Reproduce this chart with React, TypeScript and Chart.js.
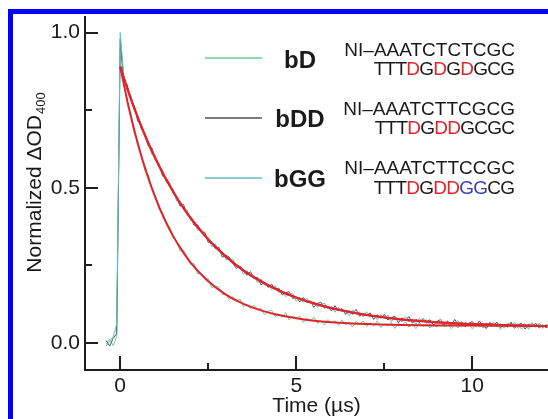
import { useEffect, useRef } from "react";
import { Chart, registerables } from "chart.js";

Chart.register(...registerables);

// sampling grid of the recorded traces (µs)
const T_START = -0.4;
const T_STEP = 0.1;

// Normalized ΔOD400 traces
const BD_DATA = [
  -0.005, 0.012, -0.008, 0.02, 0.95, 0.843, 0.774, 0.735, 0.675, 0.65,
  0.604, 0.556, 0.542, 0.495, 0.474, 0.43, 0.421, 0.387, 0.376, 0.337,
  0.329, 0.296, 0.299, 0.275, 0.253, 0.256, 0.223, 0.225, 0.205, 0.207,
  0.178, 0.183, 0.181, 0.156, 0.158, 0.14, 0.149, 0.134, 0.142, 0.116,
  0.125, 0.111, 0.122, 0.107, 0.112, 0.091, 0.103, 0.105, 0.085, 0.093,
  0.083, 0.098, 0.074, 0.086, 0.078, 0.087, 0.066, 0.08, 0.069, 0.083,
  0.063, 0.072, 0.058, 0.076, 0.064, 0.072, 0.057, 0.075, 0.059, 0.067,
  0.051, 0.07, 0.06, 0.071, 0.053, 0.065, 0.054, 0.071, 0.05, 0.061,
  0.055, 0.067, 0.047, 0.063, 0.056, 0.068, 0.051, 0.061, 0.046, 0.066,
  0.053, 0.063, 0.048, 0.059, 0.051, 0.067, 0.054, 0.063, 0.046, 0.06,
  0.048, 0.065, 0.054, 0.061, 0.045, 0.064, 0.051, 0.059, 0.047, 0.066,
  0.053, 0.062, 0.044, 0.06, 0.05, 0.065, 0.054, 0.062, 0.045, 0.058,
  0.048, 0.066, 0.051, 0.06, 0.047, 0.061, 0.053,
];

const BDD_DATA = [
  0.008, -0.01, 0.015, 0.03, 0.98, 0.847, 0.831, 0.784, 0.764, 0.714,
  0.702, 0.671, 0.634, 0.628, 0.59, 0.577, 0.538, 0.53, 0.516, 0.482,
  0.471, 0.441, 0.446, 0.413, 0.406, 0.379, 0.38, 0.358, 0.357, 0.324,
  0.324, 0.304, 0.309, 0.276, 0.283, 0.276, 0.256, 0.24, 0.248, 0.235,
  0.218, 0.23, 0.207, 0.211, 0.187, 0.195, 0.179, 0.19, 0.172, 0.177,
  0.155, 0.162, 0.165, 0.143, 0.148, 0.132, 0.147, 0.13, 0.136, 0.115,
  0.128, 0.131, 0.112, 0.117, 0.103, 0.12, 0.104, 0.111, 0.092, 0.105,
  0.092, 0.108, 0.086, 0.095, 0.088, 0.097, 0.076, 0.091, 0.08, 0.092,
  0.074, 0.082, 0.086, 0.065, 0.081, 0.072, 0.085, 0.064, 0.076, 0.065,
  0.079, 0.067, 0.075, 0.057, 0.07, 0.076, 0.058, 0.07, 0.055, 0.076,
  0.059, 0.068, 0.052, 0.063, 0.069, 0.054, 0.071, 0.056, 0.047, 0.066,
  0.056, 0.067, 0.05, 0.061, 0.052, 0.067, 0.047, 0.059, 0.063, 0.045,
  0.061, 0.052, 0.064, 0.048, 0.058, 0.049, 0.062,
];

const BGG_DATA = [
  -0.01, 0.005, 0.02, 0.06, 1.0, 0.863, 0.815, 0.799, 0.748, 0.729,
  0.687, 0.677, 0.645, 0.607, 0.599, 0.568, 0.559, 0.519, 0.508, 0.497,
  0.457, 0.457, 0.43, 0.429, 0.395, 0.39, 0.363, 0.367, 0.344, 0.339,
  0.31, 0.32, 0.295, 0.295, 0.269, 0.27, 0.27, 0.244, 0.246, 0.221,
  0.234, 0.215, 0.217, 0.194, 0.207, 0.186, 0.188, 0.172, 0.186, 0.163,
  0.166, 0.149, 0.159, 0.159, 0.135, 0.146, 0.131, 0.144, 0.127, 0.133,
  0.115, 0.123, 0.129, 0.109, 0.117, 0.099, 0.115, 0.1, 0.105, 0.088,
  0.107, 0.094, 0.1, 0.083, 0.101, 0.083, 0.09, 0.075, 0.091, 0.079,
  0.09, 0.069, 0.082, 0.079, 0.068, 0.085, 0.068, 0.078, 0.06, 0.079,
  0.068, 0.075, 0.058, 0.071, 0.061, 0.077, 0.061, 0.072, 0.055, 0.066,
  0.072, 0.051, 0.066, 0.055, 0.071, 0.052, 0.063, 0.048, 0.065, 0.057,
  0.067, 0.051, 0.063, 0.047, 0.065, 0.054, 0.067, 0.047, 0.058, 0.062,
  0.044, 0.062, 0.051, 0.064, 0.049, 0.057, 0.046,
];

// fitted curves (red)
const FIT_T = [0, 0.25, 0.5, 0.75, 1, 1.25, 1.5, 1.75, 2, 2.5, 3, 3.5, 4, 4.5, 5, 5.5, 6, 7, 8, 9, 10, 11, 12, 12.2];
const BD_FIT = [0.89, 0.755, 0.642, 0.548, 0.468, 0.401, 0.345, 0.299, 0.259, 0.199, 0.156, 0.126, 0.105, 0.09, 0.08, 0.072, 0.067, 0.061, 0.058, 0.0565, 0.056, 0.0555, 0.055, 0.055];
const BDD_FIT = [0.89, 0.803, 0.726, 0.656, 0.594, 0.538, 0.488, 0.442, 0.402, 0.333, 0.278, 0.233, 0.198, 0.169, 0.146, 0.127, 0.112, 0.09, 0.076, 0.067, 0.061, 0.057, 0.0545, 0.054];
const BGG_FIT = [0.89, 0.804, 0.727, 0.657, 0.595, 0.539, 0.489, 0.443, 0.403, 0.334, 0.279, 0.234, 0.199, 0.17, 0.147, 0.128, 0.113, 0.09, 0.076, 0.067, 0.061, 0.057, 0.0545, 0.054];

// legend content
const SERIES_NAMES = ["bD", "bDD", "bGG"];
const SEQ_TOP = ["NI\u2013AAATCTCTCGC", "NI\u2013AAATCTTCGCG", "NI\u2013AAATCTTCCGC"];
const SEQ_BOTTOM = ["TTTDGDGDGCG", "TTTDGDDGCGC", "TTTDGDDGGCG"];
const SEQ_BOTTOM_MASK = ["kkkrkrkrkkk", "kkkrkrrkkkk", "kkkrkrrbbkk"];

const X_MAJOR = [0, 5, 10];
const Y_MAJOR = [0, 0.5, 1.0];

const X_TITLE = "Time (\u00b5s)";
const Y_TITLE = "Normalized \u0394OD";
const Y_TITLE_SUB = "400";

const FONT = '"Liberation Sans", Arial, Helvetica, sans-serif';
const AXIS_COLOR = "#1e1e1e";
const TEXT_COLOR = "#1a1a1a";
const DATA_COLORS = ["#66cf92", "#555555", "#5dc0ca"];
const LEGEND_LINE_COLORS = ["#8fdab0", "#7a7a7a", "#8ccbd4"];
const FIT_COLOR = "#e3232b";
const MASK_COLORS: Record<string, string> = { k: "#1a1a1a", r: "#e2232a", b: "#3b3fb4" };

const isMajor = (list: number[], v: number) => list.some((m) => Math.abs(m - v) < 1e-9);

const overlayPlugin = {
  id: "overlay",
  afterDraw(chart: any) {
    const { ctx, chartArea, scales } = chart;
    const xs = scales.x;
    const ys = scales.y;
    ctx.save();

    // inward tick marks
    ctx.strokeStyle = AXIS_COLOR;
    ctx.lineWidth = 2;
    ctx.beginPath();
    xs.ticks.forEach((t: any) => {
      const px = Math.round(xs.getPixelForValue(t.value));
      const len = isMajor(X_MAJOR, t.value) ? 14 : 7;
      ctx.moveTo(px, chartArea.bottom);
      ctx.lineTo(px, chartArea.bottom - len);
    });
    ys.ticks.forEach((t: any) => {
      const py = Math.round(ys.getPixelForValue(t.value));
      const len = isMajor(Y_MAJOR, t.value) ? 13 : 7;
      ctx.moveTo(chartArea.left, py);
      ctx.lineTo(chartArea.left + len, py);
    });
    ctx.stroke();

    // x title
    ctx.fillStyle = TEXT_COLOR;
    ctx.font = `21px ${FONT}`;
    ctx.textAlign = "center";
    ctx.textBaseline = "middle";
    ctx.fillText(X_TITLE, (chartArea.left + chartArea.right) / 2, 406);

    // y title with subscript
    ctx.save();
    ctx.translate(41, 183);
    ctx.rotate(-Math.PI / 2);
    ctx.textAlign = "left";
    ctx.textBaseline = "alphabetic";
    ctx.font = `21px ${FONT}`;
    const w1 = ctx.measureText(Y_TITLE).width;
    ctx.font = `13px ${FONT}`;
    const w2 = ctx.measureText(Y_TITLE_SUB).width;
    const x0 = -(w1 + w2) / 2;
    ctx.font = `21px ${FONT}`;
    ctx.fillText(Y_TITLE, x0, 0);
    ctx.font = `13px ${FONT}`;
    ctx.fillText(Y_TITLE_SUB, x0 + w1 + 1, 4);
    ctx.restore();

    // legend
    const rowLine = [58, 118, 178];
    const rowName = [61, 120, 180];
    const rowTop = [51, 110, 169];
    const rowBot = [70, 129, 189];
    const seqRight = 515;
    const tighten = 0.75;
    SERIES_NAMES.forEach((name, i) => {
      ctx.strokeStyle = LEGEND_LINE_COLORS[i];
      ctx.lineWidth = 2;
      ctx.beginPath();
      ctx.moveTo(205, rowLine[i]);
      ctx.lineTo(262, rowLine[i]);
      ctx.stroke();

      ctx.fillStyle = TEXT_COLOR;
      ctx.font = `bold 24px ${FONT}`;
      ctx.textAlign = "center";
      ctx.textBaseline = "middle";
      ctx.fillText(name, 300, rowName[i]);

      ctx.font = `19px ${FONT}`;
      ctx.textAlign = "right";
      ctx.fillStyle = TEXT_COLOR;
      ctx.fillText(SEQ_TOP[i], seqRight, rowTop[i]);

      const seq = SEQ_BOTTOM[i];
      const mask = SEQ_BOTTOM_MASK[i];
      const advances: number[] = [];
      for (let k = 0; k < seq.length; k++) {
        advances.push(
          ctx.measureText(seq.slice(0, k + 1)).width - ctx.measureText(seq.slice(0, k)).width - tighten
        );
      }
      const total = advances.reduce((a, b) => a + b, 0) + tighten;
      let x = seqRight - total;
      ctx.textAlign = "left";
      for (let k = 0; k < seq.length; k++) {
        ctx.fillStyle = MASK_COLORS[mask[k]];
        ctx.fillText(seq[k], x, rowBot[i]);
        x += advances[k];
      }
    });

    // blue frame
    ctx.fillStyle = "#0000ff";
    ctx.fillRect(8, 9, 5, 410);
    ctx.fillRect(8, 9, 540, 5);

    ctx.restore();
  },
};

export default function App() {
  const canvasRef = useRef<HTMLCanvasElement | null>(null);

  useEffect(() => {
    const canvas = canvasRef.current;
    if (!canvas) return;
    const trace = (vals: number[]) =>
      vals.map((y, i) => ({ x: Math.round((T_START + i * T_STEP) * 100) / 100, y }));
    const fit = (vals: number[]) => vals.map((y, i) => ({ x: FIT_T[i], y }));

    const fitStyle = {
      borderColor: FIT_COLOR,
      borderWidth: 2,
      pointRadius: 0,
      fill: false,
      cubicInterpolationMode: "monotone" as const,
    };
    const dataStyle = (c: string) => ({
      borderColor: c,
      borderWidth: 1,
      pointRadius: 0,
      fill: false,
      tension: 0,
    });

    const chart = new Chart(canvas, {
      type: "line",
      data: {
        datasets: [
          { label: "bD fit", data: fit(BD_FIT), ...fitStyle },
          { label: "bDD fit", data: fit(BDD_FIT), ...fitStyle },
          { label: "bGG fit", data: fit(BGG_FIT), ...fitStyle },
          { label: "bGG", data: trace(BGG_DATA), ...dataStyle(DATA_COLORS[2]) },
          { label: "bDD", data: trace(BDD_DATA), ...dataStyle(DATA_COLORS[1]) },
          { label: "bD", data: trace(BD_DATA), ...dataStyle(DATA_COLORS[0]) },
        ],
      },
      options: {
        animation: false,
        responsive: false,
        events: [],
        layout: { padding: { top: 17, left: 0, right: 0, bottom: 0 } },
        plugins: {
          legend: { display: false },
          tooltip: { enabled: false },
        },
        scales: {
          x: {
            type: "linear",
            min: -1,
            max: 12.15,
            afterFit: (s: any) => {
              s.height = 49;
            },
            grid: { display: false, drawTicks: false },
            border: { display: true, color: AXIS_COLOR, width: 2 },
            ticks: {
              stepSize: 2.5,
              includeBounds: false,
              autoSkip: false,
              maxRotation: 0,
              padding: 6,
              color: TEXT_COLOR,
              font: { family: FONT, size: 21, lineHeight: 1 },
              callback: (v: any) => (isMajor(X_MAJOR, Number(v)) ? String(v) : ""),
            },
          },
          y: {
            type: "linear",
            min: -0.087,
            max: 1.05,
            afterFit: (s: any) => {
              s.width = 85;
            },
            grid: { display: false, drawTicks: false },
            border: { display: true, color: AXIS_COLOR, width: 2 },
            ticks: {
              stepSize: 0.25,
              includeBounds: false,
              autoSkip: false,
              padding: 5,
              color: TEXT_COLOR,
              font: { family: FONT, size: 21, lineHeight: 1 },
              callback: (v: any) => (isMajor(Y_MAJOR, Number(v)) ? Number(v).toFixed(1) : ""),
            },
          },
        },
      },
      plugins: [overlayPlugin],
    });

    return () => chart.destroy();
  }, []);

  return (
    <div style={{ position: "fixed", left: 0, top: 0, width: 548, height: 419, background: "#fff" }}>
      <canvas ref={canvasRef} width={548} height={419} style={{ display: "block" }} />
    </div>
  );
}
